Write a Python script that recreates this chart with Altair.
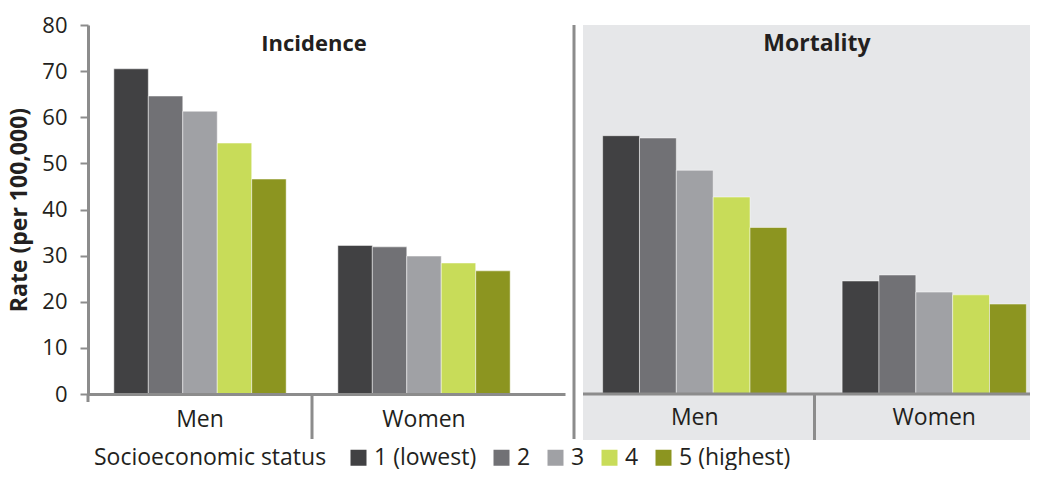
import altair as alt
import pandas as pd

groups = ["Men", "Women"]
statuses = ["1 (lowest)", "2", "3", "4", "5 (highest)"]
incidence_men = [70.5, 64.6, 61.3, 54.4, 46.6]
incidence_women = [32.2, 31.9, 29.9, 28.4, 26.7]
mortality_men = [56.0, 55.5, 48.5, 42.7, 36.1]
mortality_women = [24.5, 25.8, 22.1, 21.5, 19.5]
colors = ["#414143", "#717175", "#a0a1a5", "#c8dc59", "#8c9520"]

def make_df(men, women):
    rows = []
    for g, vals in zip(groups, [men, women]):
        for s, v in zip(statuses, vals):
            rows.append({"sex": g, "status": s, "rate": v})
    return pd.DataFrame(rows)

inc_df = make_df(incidence_men, incidence_women)
mor_df = make_df(mortality_men, mortality_women)
grp_df = pd.DataFrame({"sex": groups})

H = 369
WL = 477
WR = 447
AX = "#8c8c8c"
FONT = "Open Sans"
TXT = "#231f20"

color = alt.Color("status:N", sort=statuses,
                  scale=alt.Scale(domain=statuses, range=colors),
                  legend=alt.Legend(title="Socioeconomic status", orient="none",
                                    legendX=6, legendY=421, direction="horizontal",
                                    titleOrient="left", titleFontWeight="normal",
                                    titleFontSize=23, titleFont=FONT, titleColor=TXT,
                                    titlePadding=20, titleLimit=400, labelLimit=300,
                                    labelFontSize=23, labelFont=FONT,
                                    labelColor=TXT, symbolType="square",
                                    symbolSize=256, symbolStrokeWidth=0,
                                    labelOffset=4, columnPadding=13, columns=5))

yscale = alt.Scale(domain=[0, 80])

def bars(df, xscale, xaxis, yaxis):
    return alt.Chart(df).mark_bar(stroke="white", strokeWidth=0.8, strokeOpacity=0.6).encode(
        x=alt.X("sex:N", sort=groups, title=None, scale=xscale, axis=xaxis),
        xOffset=alt.XOffset("status:N", sort=statuses,
                            scale=alt.Scale(paddingInner=0, paddingOuter=0.75)),
        y=alt.Y("rate:Q", scale=yscale, axis=yaxis),
        color=color,
    )

left_x = alt.Scale(paddingInner=0, paddingOuter=0.0647, align=0)
left_xaxis = alt.Axis(labelAngle=0, labelFontSize=23, labelFont=FONT,
                      labelColor=TXT, ticks=False, domainColor=AX,
                      domainWidth=3, labelPadding=14, zindex=1)
left_yaxis = alt.Axis(title="Rate (per 100,000)", titleFontSize=23, titleFont=FONT,
                      titleFontWeight="bold", titleColor=TXT, titlePadding=10,
                      values=list(range(0, 90, 10)), labelFontSize=22, labelFont=FONT,
                      labelColor=TXT, labelPadding=13, tickSize=8, tickColor=AX,
                      tickWidth=2, domainColor=AX, domainWidth=3, grid=False)

sep_df = pd.DataFrame({"sex": ["Women"]})
men_df = pd.DataFrame({"sex": ["Men"]})

left = alt.layer(
    bars(inc_df, left_x, left_xaxis, left_yaxis),
    alt.Chart(sep_df).mark_rule(color=AX, strokeWidth=3).encode(
        x=alt.X("sex:N", bandPosition=0, sort=groups), y=alt.value(H), y2=alt.value(H + 45)),
    alt.Chart(men_df).mark_rule(color=AX, strokeWidth=3).encode(
        x=alt.X("sex:N", bandPosition=0, sort=groups), y=alt.value(H), y2=alt.value(H + 8)),
    alt.Chart(sep_df).mark_rule(color=AX, strokeWidth=3).encode(
        x=alt.value(WL + 9), y=alt.value(0), y2=alt.value(H + 45)),
    alt.Chart(pd.DataFrame({"t": ["Incidence"]})).mark_text(
        fontWeight="bold", fontSize=22, font=FONT, color=TXT).encode(
        x=alt.value(226), y=alt.value(19), text="t:N"),
).properties(width=WL, height=H).resolve_scale(xOffset="independent")

right_x = alt.Scale(paddingInner=0, paddingOuter=0, range=[-8, 471])
right = alt.layer(
    alt.Chart(men_df).mark_rect(color="#e6e7e9").encode(
        x=alt.value(0), x2=alt.value(WR), y=alt.value(0), y2=alt.value(H + 46)),
    bars(mor_df, right_x, None, None),
    alt.Chart(grp_df).mark_text(fontSize=23, font=FONT, color=TXT, baseline="top").encode(
        x=alt.X("sex:N", sort=groups), y=alt.value(H + 13), text="sex:N"),
    alt.Chart(pd.DataFrame({"v": [0]})).mark_rule(color=AX, strokeWidth=3).encode(
        y=alt.Y("v:Q", scale=yscale), x=alt.value(0), x2=alt.value(WR)),
    alt.Chart(sep_df).mark_rule(color=AX, strokeWidth=3).encode(
        x=alt.X("sex:N", bandPosition=0, sort=groups), y=alt.value(H), y2=alt.value(H + 46)),
    alt.Chart(pd.DataFrame({"t": ["Mortality"]})).mark_text(
        fontWeight="bold", fontSize=23, font=FONT, color=TXT).encode(
        x=alt.value(234), y=alt.value(19), text="t:N"),
).properties(width=WR, height=H)

chart = alt.hconcat(left, right, spacing=18, bounds="flush").properties(
    padding={"top": 6, "left": 0, "right": 0, "bottom": 0}
).resolve_scale(xOffset="independent").configure_view(stroke=None)

chart.save("out.html", embed_options={"renderer": "svg", "actions": False})
